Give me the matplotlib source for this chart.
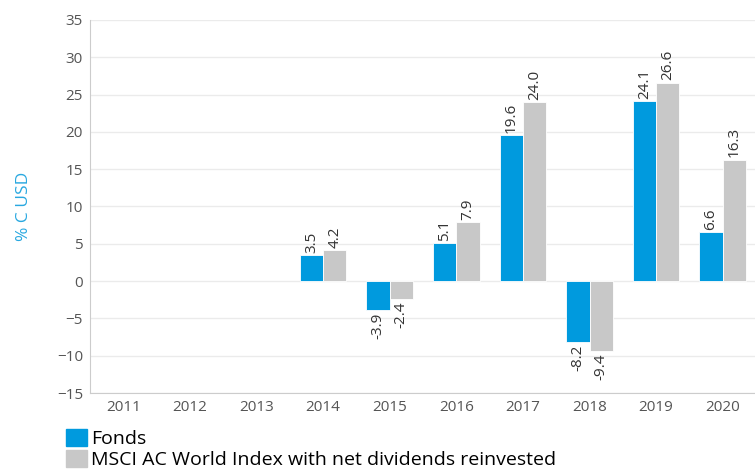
import matplotlib.pyplot as plt
import numpy as np
from matplotlib.patches import Patch

plt.rcParams['font.family'] = ['Open Sans', 'DejaVu Sans']

years = ["2011", "2012", "2013", "2014", "2015", "2016", "2017", "2018", "2019", "2020"]
fonds = [None, None, None, 3.5, -3.9, 5.1, 19.6, -8.2, 24.1, 6.6]
msci = [None, None, None, 4.2, -2.4, 7.9, 24.0, -9.4, 26.6, 16.3]

blue = "#009ade"
grey = "#c8c8c8"

fig = plt.figure(figsize=(7.55, 4.73), dpi=100)
ax = fig.add_axes([90 / 755, 80 / 473, 666 / 755, 373 / 473])

x = np.arange(len(years))
w = 0.35
for i in range(len(years)):
    for val, off, col in ((fonds[i], -w / 2, blue), (msci[i], w / 2, grey)):
        if val is None:
            continue
        ax.bar(x[i] + off, val, width=w, color=col, edgecolor="white", linewidth=0.6, zorder=3)
        if val >= 0:
            ax.text(x[i] + off, val + 0.3, f"{val:.1f}", rotation=90, ha="center", va="bottom",
                    fontsize=11, color="#333333")
        else:
            ax.text(x[i] + off, val - 0.3, f"{val:.1f}", rotation=90, ha="center", va="top",
                    fontsize=11, color="#333333")

ax.set_xlim(-0.5, 9.5)
ax.set_ylim(-15, 35)
ax.set_yticks(range(-15, 36, 5))
ax.set_xticks(x)
ax.set_xticklabels(years)
ax.grid(axis="y", color="#ebebeb", linewidth=1, zorder=0)
ax.tick_params(length=0, labelsize=11, colors="#555555", pad=5)
for s in ("top", "right"):
    ax.spines[s].set_visible(False)
ax.spines["left"].set_color("#cccccc")
ax.spines["bottom"].set_color("#cccccc")
ax.set_ylabel("% C USD", color="#29a8e0", fontsize=12.5, labelpad=18)

handles = [Patch(color=blue), Patch(color=grey)]
fig.legend(handles, ["Fonds", "MSCI AC World Index with net dividends reinvested"],
           loc="lower left", bbox_to_anchor=(58 / 755, -4 / 473), frameon=False,
           fontsize=14, handlelength=1.1, handleheight=1.0, handletextpad=0.2,
           labelspacing=0.1, borderaxespad=0)

fig.savefig("out.png", dpi=100)
